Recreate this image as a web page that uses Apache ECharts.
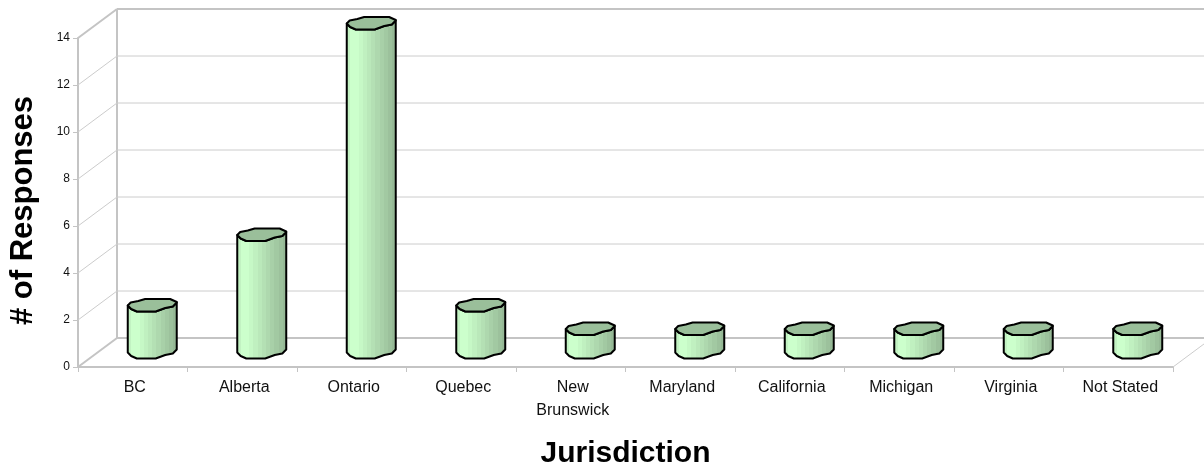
<!DOCTYPE html>
<html>
<head>
<meta charset="utf-8">
<style>html,body{margin:0;padding:0;background:#fff}#chart{width:1204px;height:467px}</style>
<script src="https://cdn.jsdelivr.net/npm/echarts@6/dist/echarts.min.js"></script>
</head>
<body>
<div id="chart"></div>
<script>
// Survey responses per jurisdiction
const categories = ['BC', 'Alberta', 'Ontario', 'Quebec', 'New\nBrunswick', 'Maryland', 'California', 'Michigan', 'Virginia', 'Not Stated'];
const responses = [2, 5, 14, 2, 1, 1, 1, 1, 1, 1];
const yTicks = [0, 2, 4, 6, 8, 10, 12, 14];

// Perspective shift of the back wall relative to the front plane, in pixels
const DEPTH_X = 39;
const DEPTH_Y = -29;
const WALL = '#c4c4c4';
const GRID = '#cccccc';
const FONT = '"Liberation Sans", Arial, sans-serif';

// Faceted column outline, as fractions of half the column width and pixels down
const FRONT_EDGE = [[-1, 0], [-0.86, 3.5], [-0.63, 6], [0.14, 6], [0.53, 2.5], [0.84, 1], [1, -3]];
const BACK_EDGE = [[1, -3.5], [0.73, -6.5], [-0.29, -6.5], [-0.57, -4.5], [-0.88, -3]];

const STRIPES = ['#c2f2c2', '#ccffcc', '#ccffcc', '#c6f8c6', '#c0f0c0', '#bae8ba', '#b4e0b4', '#aed8ae', '#a8d0a8', '#a2c9a2', '#9cc19c', '#96b996'];
const bodyFill = {
  type: 'linear', x: 0, y: 0, x2: 1, y2: 0,
  colorStops: STRIPES.flatMap((c, i) => [
    { offset: i / STRIPES.length, color: c },
    { offset: (i + 1) / STRIPES.length, color: c }
  ])
};

function renderWall(params, api) {
  const v = api.value(1);
  const box = params.coordSys;
  const y = api.coord([0, v])[1];
  const heavy = v === yTicks[0] || v === yTicks[yTicks.length - 1];
  const width = heavy ? 2 : 1;
  const color = heavy ? WALL : GRID;
  const left = box.x;
  const right = box.x + box.width;
  const children = [
    { type: 'line', shape: { x1: left, y1: y, x2: left + DEPTH_X, y2: y + DEPTH_Y }, style: { stroke: color, lineWidth: width } },
    { type: 'line', shape: { x1: left + DEPTH_X, y1: y + DEPTH_Y, x2: right + DEPTH_X, y2: y + DEPTH_Y }, style: { stroke: color, lineWidth: width } }
  ];
  if (v === yTicks[0]) {
    const top = api.coord([0, yTicks[yTicks.length - 1]])[1];
    children.push(
      { type: 'line', shape: { x1: left + DEPTH_X, y1: y + DEPTH_Y, x2: left + DEPTH_X, y2: top + DEPTH_Y }, style: { stroke: WALL, lineWidth: 2 } },
      { type: 'line', shape: { x1: right, y1: y, x2: right + DEPTH_X, y2: y + DEPTH_Y }, style: { stroke: GRID, lineWidth: 1 } }
    );
  }
  return { type: 'group', children };
}

function renderColumn(params, api) {
  const i = api.value(0);
  const half = api.size([1, 0])[0] * 0.2237;
  const cx = api.coord([i, 0])[0] + DEPTH_X / 2;
  const yBase = api.coord([i, 0])[1] + DEPTH_Y / 2;
  const yTop = api.coord([i, api.value(1)])[1] + DEPTH_Y / 2;
  const at = (edge, y) => edge.map(p => [cx + p[0] * half, y + p[1]]);
  const frontTop = at(FRONT_EDGE, yTop);
  const frontBase = at(FRONT_EDGE, yBase);
  const outline = { stroke: '#000', lineWidth: 2, lineJoin: 'round' };
  return {
    type: 'group',
    children: [
      { type: 'polygon', shape: { points: frontTop.concat(frontBase.slice().reverse()) }, style: Object.assign({ fill: bodyFill }, outline) },
      { type: 'polygon', shape: { points: frontTop.concat(at(BACK_EDGE, yTop)) }, style: Object.assign({ fill: '#9abf9a' }, outline) }
    ]
  };
}

const chart = echarts.init(document.getElementById('chart'), null, { renderer: 'canvas' });
chart.setOption({
  animation: false,
  backgroundColor: '#fff',
  textStyle: { fontFamily: FONT },
  grid: { left: 78, right: 31, top: 38, bottom: 100, containLabel: false, outerBoundsMode: 'none' },
  xAxis: {
    type: 'category',
    data: categories,
    boundaryGap: true,
    name: 'Jurisdiction',
    nameLocation: 'middle',
    nameGap: 72,
    nameTextStyle: { fontSize: 30, fontWeight: 'bold', color: '#000', fontFamily: FONT },
    axisLine: { lineStyle: { color: WALL, width: 2 } },
    axisTick: { show: true, alignWithLabel: false, length: 5, lineStyle: { color: WALL, width: 1 } },
    axisLabel: { interval: 0, fontSize: 16, color: '#111', lineHeight: 23, margin: 9, padding: [0, 0, 0, 4], fontFamily: FONT },
    splitLine: { show: false }
  },
  yAxis: {
    type: 'value',
    min: 0,
    max: 14,
    interval: 2,
    name: '# of Responses',
    nameLocation: 'middle',
    nameGap: 39,
    nameTextStyle: { fontSize: 31, fontWeight: 'bold', color: '#000', padding: [0, 16, 0, 0], fontFamily: FONT },
    axisLine: { show: true, lineStyle: { color: WALL, width: 2 } },
    axisTick: { show: true, length: 5, lineStyle: { color: WALL, width: 1 } },
    axisLabel: { fontSize: 12, color: '#111', margin: 8, fontFamily: FONT },
    splitLine: { show: false }
  },
  series: [
    {
      type: 'custom',
      name: 'Walls',
      coordinateSystem: 'cartesian2d',
      clip: false,
      silent: true,
      z: 1,
      data: yTicks.map(v => [0, v]),
      renderItem: renderWall
    },
    {
      type: 'custom',
      name: 'Responses',
      coordinateSystem: 'cartesian2d',
      clip: false,
      z: 3,
      data: responses.map((v, i) => [i, v]),
      renderItem: renderColumn
    }
  ]
});
</script>
</body>
</html>
